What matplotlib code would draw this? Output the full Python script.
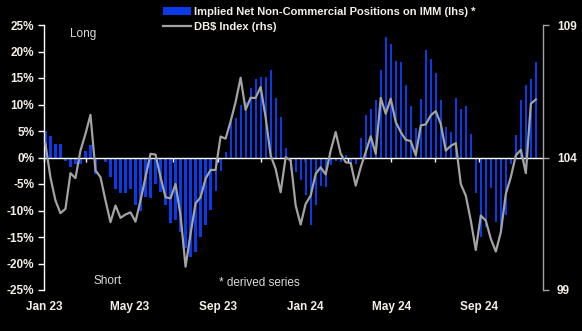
import numpy as np
import pandas as pd
import matplotlib
matplotlib.use('Agg')
import matplotlib.pyplot as plt
import matplotlib.dates as mdates
import matplotlib.transforms as mtransforms
from matplotlib.patches import Patch
from matplotlib.lines import Line2D

plt.rcParams['font.family'] = ['Liberation Sans', 'DejaVu Sans']

# weekly observations, first Tuesday of 2023 onwards
start_date = '2023-01-03'
n_weeks = 99
dates = pd.date_range(start_date, periods=n_weeks, freq='7D')

# implied net non-commercial positions on IMM, % (lhs)
positions = [
    5.0, 4.0, 2.5, 2.6, -0.7, -1.8, -1.3, -1.2, 1.3, 2.3,
    -3.2, -0.2, -0.9, -3.6, -5.9, -6.7, -6.7, -5.9, -8.9, -10.0,
    -7.5, -7.7, -5.0, -6.5, -9.0, -12.4, -11.7, -14.0, -17.0, -18.8,
    -17.8, -15.0, -12.8, -9.9, -6.4, -2.5, 1.1, 6.7, 7.5, 10.0,
    10.5, 13.1, 14.8, 15.2, 15.2, 16.5, 11.3, 7.7, 1.8, -2.3,
    -2.8, -4.2, -7.0, -12.8, -8.9, -5.4, -5.6, -1.5, -0.7, -0.9,
    0.4, -1.2, -1.3, 3.6, 8.1, 9.2, 10.8, 16.5, 22.8, 21.4,
    18.3, 18.1, 13.6, 9.8, 5.6, 11.1, 20.3, 18.5, 15.9, 10.9,
    5.7, 4.8, 11.3, 9.1, 9.8, 4.5, -6.7, -15.0, -13.1, -5.8,
    -12.2, -13.8, -10.8, -1.2, 4.2, 10.9, 13.6, 14.8, 18.0,
]

# DB$ index (rhs)
dbs_index = [
    104.52, 103.25, 102.38, 101.90, 102.06, 103.41, 103.22, 104.26, 104.89, 105.61,
    103.51, 103.26, 102.38, 101.56, 102.19, 101.72, 101.85, 101.93, 101.58, 102.38,
    103.26, 104.14, 104.11, 103.26, 102.50, 102.46, 103.00, 101.81, 99.88, 101.12,
    102.27, 102.50, 103.20, 103.53, 103.53, 104.79, 104.71, 105.36, 106.09, 107.01,
    105.80, 106.25, 106.25, 106.66, 105.52, 104.08, 103.57, 102.69, 104.01, 103.89,
    102.19, 101.47, 102.25, 102.56, 103.38, 103.63, 103.36, 104.26, 104.96, 104.14,
    103.82, 103.79, 102.94, 103.63, 104.20, 104.80, 104.14, 106.25, 105.65, 106.22,
    105.34, 104.96, 104.67, 104.62, 104.08, 105.21, 105.25, 105.59, 105.75, 105.27,
    104.26, 104.44, 104.54, 103.00, 102.56, 101.62, 100.51, 101.81, 101.62, 100.93,
    100.45, 101.18, 102.63, 103.26, 104.08, 104.29, 103.41, 106.03, 106.19,
]

left_ticks = [-25, -20, -15, -10, -5, 0, 5, 10, 15, 20, 25]
right_ticks = [99, 104, 109]
label_dates = ['2023-01-01', '2023-05-01', '2023-09-01', '2024-01-01', '2024-05-01', '2024-09-01']
label_texts = ['Jan 23', 'May 23', 'Sep 23', 'Jan 24', 'May 24', 'Sep 24']

bar_col = '#0a3be6'
line_col = '#a3a3a3'
txt_col = '#f4f0e6'

fig = plt.figure(figsize=(5.82, 3.31), dpi=100, facecolor='black')
ax = fig.add_axes([44/582, 1-290/331, (543-44)/582, 265/331])
ax.set_facecolor('black')

ax.bar(dates, positions, width=3.0, color=bar_col, zorder=2)
ax.set_ylim(-25, 25)
ax.set_xlim(pd.Timestamp('2023-01-01'), pd.Timestamp('2024-11-29'))
ax.set_yticks(left_ticks)
ax.set_yticklabels([f'{t}%' for t in left_ticks])

# x axis sits on the zero line
ax.spines['bottom'].set_position(('data', 0))
ax.spines['bottom'].set_color('white')
ax.spines['bottom'].set_linewidth(1.0)
ax.spines['bottom'].set_zorder(4)
ax.spines['left'].set_color('white')
ax.spines['left'].set_linewidth(1.0)
ax.spines['top'].set_visible(False)
ax.spines['right'].set_visible(False)
ax.xaxis.set_major_locator(mdates.MonthLocator(bymonth=[1, 3, 5, 7, 9, 11]))
ax.tick_params(axis='x', colors='white', direction='out', length=3, width=1, labelbottom=False)
ax.tick_params(axis='y', colors='white', direction='out', length=4, width=1,
               labelcolor=txt_col, labelsize=8.5, pad=3)
for lab in ax.get_yticklabels():
    lab.set_fontweight('bold')

trans = mtransforms.blended_transform_factory(ax.transData, ax.transAxes)
for d, t in zip(label_dates, label_texts):
    ax.text(pd.Timestamp(d), -0.066, t, transform=trans, ha='center', va='center',
            color=txt_col, fontsize=8.5, fontweight='bold')

ax2 = ax.twinx()
ax2.plot(dates, dbs_index, color=line_col, lw=1.6, zorder=3)
ax2.set_ylim(99, 109)
ax2.set_yticks(right_ticks)
for s in ['top', 'bottom', 'left']:
    ax2.spines[s].set_visible(False)
ax2.spines['right'].set_color(line_col)
ax2.spines['right'].set_linewidth(1.0)
ax2.tick_params(axis='y', colors=line_col, direction='out', length=4, width=1,
                labelcolor=txt_col, labelsize=8.5, pad=6)
for lab in ax2.get_yticklabels():
    lab.set_fontweight('bold')

ax.text(26/499, 1-9/265, 'Long', transform=ax.transAxes, color='#dcdcdc', fontsize=8.5, va='center')
ax.text(49/499, 1-256/265, 'Short', transform=ax.transAxes, color='#dcdcdc', fontsize=8.5, va='center')
ax.text(175/499, 1-258/265, '* derived series', transform=ax.transAxes, color='#dcdcdc',
        fontsize=8.5, va='center')

handles = [Patch(facecolor=bar_col, edgecolor='none'),
           Line2D([0], [0], color=line_col, lw=1.6)]
labels = ['Implied Net Non-Commercial Positions on IMM (lhs) *', 'DB$ Index (rhs)']
leg = fig.legend(handles, labels, loc='upper left', bbox_to_anchor=(163/582, 1-7/331),
                 frameon=False, borderpad=0, borderaxespad=0, handlelength=2.5,
                 handleheight=0.7, handletextpad=0.25, labelspacing=0.45,
                 prop={'size': 8, 'weight': 'bold'})
for t in leg.get_texts():
    t.set_color(txt_col)

fig.savefig('out.png', dpi=100, facecolor='black')
